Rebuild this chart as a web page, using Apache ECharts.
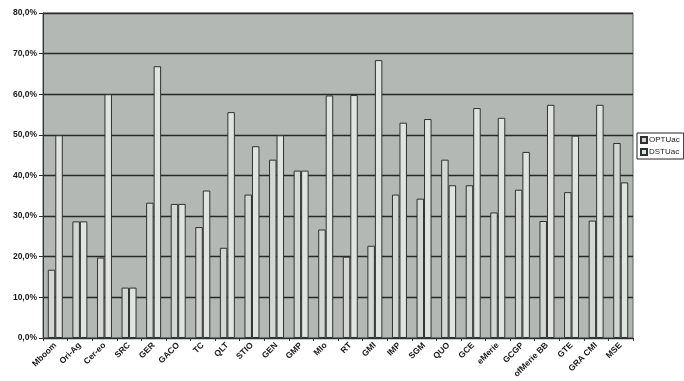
<!DOCTYPE html>
<html>
<head>
<meta charset="utf-8">
<script src="https://cdn.jsdelivr.net/npm/echarts@6/dist/echarts.min.js"></script>
<style>
  html, body { margin: 0; padding: 0; background: #ffffff; }
  #chart { width: 684px; height: 381px; }
</style>
</head>
<body>
<div id="chart"></div>
<script>
// Category names along the x axis
const categories = ['Mboom', 'Ori-Ag', 'Cer-eo', 'SRC', 'GER', 'GACO', 'TC', 'QLT',
  'STIO', 'GEN', 'GMP', 'MIo', 'RT', 'GMI', 'IMP', 'SGM', 'QUO', 'GCE',
  'eMerie', 'GCGP', 'ofMerie BB', 'GTE', 'GRA CMI', 'MSE'];

// Series values, in percent
const optUac = [16.8, 28.7, 19.8, 12.4, 33.3, 33.0, 27.3, 22.2, 35.3, 43.9, 41.2, 26.7,
  20.0, 22.7, 35.3, 34.3, 43.9, 37.6, 30.9, 36.5, 28.8, 35.9, 28.9, 48.0];
const dstUac = [49.9, 28.7, 60.0, 12.4, 66.9, 33.0, 36.3, 55.6, 47.2, 49.9, 41.2, 59.7,
  59.8, 68.4, 53.0, 53.9, 37.6, 56.6, 54.2, 45.8, 57.4, 49.8, 57.4, 38.3];

// Value axis range
const yMin = 0, yMax = 80, yStep = 10;

const seriesNames = ['OPTUac', 'DSTUac'];

const chart = echarts.init(document.getElementById('chart'), null, { renderer: 'canvas' });

const font = '"Liberation Sans", Arial, sans-serif';
const edge = '#2e322e';

chart.setOption({
  animation: false,
  backgroundColor: '#ffffff',
  grid: {
    left: 43, right: 51, top: 13, bottom: 43,
    show: true,
    backgroundColor: '#b4b8b4',
    borderColor: '#5e625e',
    borderWidth: 1
  },
  legend: {
    data: seriesNames,
    orient: 'vertical',
    left: 637, top: 133,
    backgroundColor: '#ffffff',
    borderColor: '#222222',
    borderWidth: 1,
    padding: [3, 4, 3, 3],
    itemWidth: 6, itemHeight: 6, itemGap: 4,
    icon: 'rect',
    textStyle: { fontFamily: font, fontSize: 8, color: '#222222', padding: [0, 0, 0, -3] }
  },
  xAxis: {
    type: 'category',
    data: categories,
    boundaryGap: true,
    axisLine: { lineStyle: { color: '#333333', width: 1 } },
    axisTick: { show: true, length: 3, lineStyle: { color: '#333333' } },
    axisLabel: {
      interval: 0,
      rotate: 45,
      margin: 6,
      fontFamily: font,
      fontSize: 8.5,
      fontWeight: 'bold',
      color: '#1a1a1a'
    }
  },
  yAxis: {
    type: 'value',
    min: yMin, max: yMax, interval: yStep,
    axisLine: { show: true, lineStyle: { color: '#333333', width: 1 } },
    axisTick: { show: true, length: 4, lineStyle: { color: '#333333' } },
    axisLabel: {
      margin: 6,
      fontFamily: font,
      fontSize: 8.5,
      fontWeight: 'bold',
      color: '#1a1a1a',
      formatter: v => v.toFixed(1).replace('.', ',') + '%'
    },
    splitLine: { show: true, lineStyle: { color: '#262a26', width: 1.4 } }
  },
  series: [
    {
      name: seriesNames[0],
      type: 'bar',
      data: optUac,
      barGap: '0%',
      barCategoryGap: '39%',
      itemStyle: { color: '#d3d7d3', borderColor: edge, borderWidth: 1 }
    },
    {
      name: seriesNames[1],
      type: 'bar',
      data: dstUac,
      barGap: '0%',
      barCategoryGap: '39%',
      itemStyle: { color: '#e0e4e0', borderColor: edge, borderWidth: 1 }
    }
  ]
});
</script>
</body>
</html>
